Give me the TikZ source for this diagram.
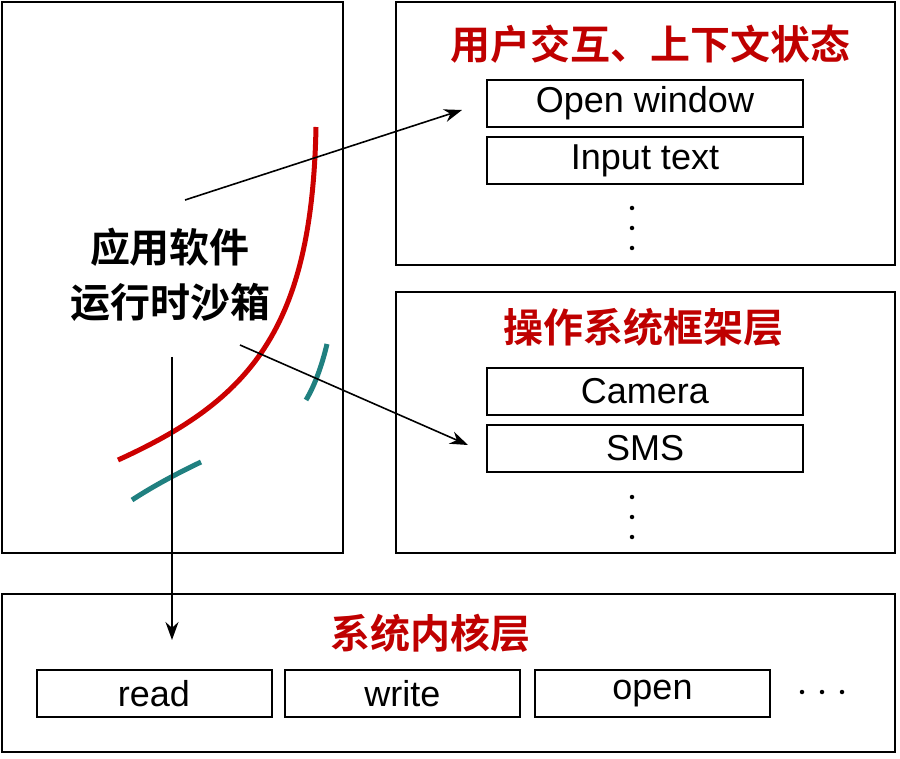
\documentclass[tikz,border=0pt]{standalone}
\usetikzlibrary{arrows.meta}
\usepackage{fontspec}
\setmainfont{Liberation Sans}
\newfontfamily\cjk{Noto Sans CJK SC}[BoldFont={Noto Sans CJK SC Bold}]
\begin{document}
\begin{tikzpicture}[x=1pt,y=-1pt,
  frame/.style={draw,line width=2pt},
  item/.style={draw,line width=2pt,minimum width=316pt,minimum height=47pt,inner sep=0pt,font=\fontsize{36}{38}\selectfont},
  bitem/.style={draw,line width=2pt,minimum width=235pt,minimum height=47pt,inner sep=0pt,font=\fontsize{36}{38}\selectfont},
  ttl/.style={text=red!75!black,font=\cjk\bfseries\fontsize{40}{42}\selectfont},
  dot/.style={fill,circle,inner sep=0pt,minimum size=4.5pt},
  arr/.style={-{Stealth[length=18pt,width=13pt]},line width=1.6pt}]
\useasboundingbox (0,0) rectangle (900,759);
\draw[frame] (2,2) rectangle (343,553);
\draw[frame] (396,2) rectangle (895,265);
\draw[frame] (396,292) rectangle (895,553);
\draw[frame] (2,594) rectangle (895,752);
\node[ttl] (t1) at (650,44) {用户交互、上下文状态};
\node[item] (ow) at (645,103.5) {Open window};
\node[item] (it) at (645,160.5) {Input text};
\node[dot] (d1a) at (632,208) {};
\node[dot] (d1b) at (632,228) {};
\node[dot] (d1c) at (632,248) {};
\node[ttl] (t2) at (643,327) {操作系统框架层};
\node[item] (cam) at (645,391.5) {Camera};
\node[item] (sms) at (645,448.5) {SMS};
\node[dot] (d2a) at (632,497) {};
\node[dot] (d2b) at (632,517) {};
\node[dot] (d2c) at (632,537) {};
\node[ttl] (t3) at (430,633) {系统内核层};
\node[bitem] (rd) at (154,693.5) {read};
\node[bitem] (wr) at (402.5,693.5) {write};
\node[bitem] (op) at (652.5,693.5) {open};
\node[dot] (d3a) at (802,692) {};
\node[dot] (d3b) at (822,692) {};
\node[dot] (d3c) at (842,692) {};
\node[align=center,font=\cjk\bfseries\fontsize{40}{55}\selectfont] (sb) at (170,275) {应用软件\\运行时沙箱};
\draw[red!80!black,line width=5pt] (316,127) .. controls (312,330) and (250,400) .. (118,460);
\draw[teal!75!gray,line width=5pt] (306,400) .. controls (315,385) and (322,365) .. (327,344);
\draw[teal!75!gray,line width=5pt] (132,500) .. controls (155,485) and (180,472) .. (201,462);
\coordinate (a1) at (185,200);
\coordinate (a2) at (240,345);
\coordinate (a3) at (172,357);
\coordinate (e1) at (462,110);
\coordinate (e2) at (468,445);
\coordinate (e3) at (172,640);
\draw[arr] (a1) -- (e1);
\draw[arr] (a2) -- (e2);
\draw[arr] (a3) -- (e3);
\end{tikzpicture}
\end{document}
